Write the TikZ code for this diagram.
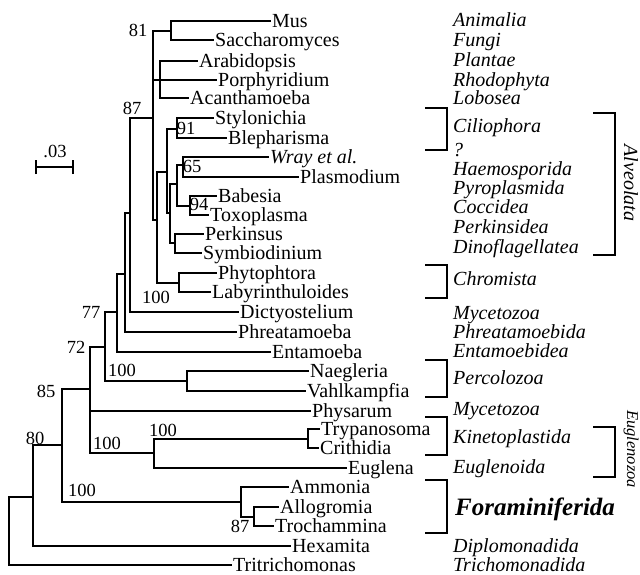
\documentclass[tikz,border=0pt]{standalone}
\usepackage{fontspec}
\setmainfont{Liberation Serif}
\begin{document}
\begin{tikzpicture}[x=1pt,y=-1pt,
  tl/.style={line width=1.4pt},
  leaf/.style={anchor=west,inner xsep=1pt,inner ysep=0pt,text height=12pt,text depth=0pt,font=\fontsize{20}{21}\selectfont},
  grp/.style={anchor=west,inner sep=0pt,text height=12pt,text depth=0pt,font=\fontsize{20}{21}\selectfont\itshape},
  bs/.style={inner sep=0pt,font=\fontsize{18.5}{19}\selectfont},
  brk/.style={line width=2.6pt,line cap=butt,line join=miter},
  rot/.style={rotate=-90,inner sep=0pt,font=\itshape}
]
\useasboundingbox (0,0) rectangle (640,574);

% leaves
\node[leaf] (mus) at (271,21) {Mus};
\node[leaf] (sac) at (214,40) {Saccharomyces};
\node[leaf] (ara) at (198,61) {Arabidopsis};
\node[leaf] (por) at (217,80) {Porphyridium};
\node[leaf] (aca) at (189,98) {Acanthamoeba};
\node[leaf] (sty) at (214,118) {Stylonichia};
\node[leaf] (ble) at (227,138) {Blepharisma};
\node[leaf] (wra) at (269,157) {\itshape Wray et al.};
\node[leaf] (pla) at (299,177) {Plasmodium};
\node[leaf] (bab) at (217,196) {Babesia};
\node[leaf] (tox) at (209,215) {Toxoplasma};
\node[leaf] (per) at (204,234) {Perkinsus};
\node[leaf] (sym) at (202,253) {Symbiodinium};
\node[leaf] (phy) at (217,273) {Phytophtora};
\node[leaf] (lab) at (211,292) {Labyrinthuloides};
\node[leaf] (dic) at (239,312) {Dictyostelium};
\node[leaf] (phr) at (237,332) {Phreatamoeba};
\node[leaf] (ent) at (271,352) {Entamoeba};
\node[leaf] (nae) at (309,371) {Naegleria};
\node[leaf] (vah) at (306,391) {Vahlkampfia};
\node[leaf] (phs) at (311,411) {Physarum};
\node[leaf] (try) at (320,429) {Trypanosoma};
\node[leaf] (cri) at (319,448) {Crithidia};
\node[leaf] (eug) at (347,468) {Euglena};
\node[leaf] (amm) at (289,487) {Ammonia};
\node[leaf] (all) at (279,507) {Allogromia};
\node[leaf] (tro) at (274,526) {Trochammina};
\node[leaf] (hex) at (291,546) {Hexamita};
\node[leaf] (tri) at (232,565) {Tritrichomonas};

% internal nodes
\coordinate (r) at (9,530);
\coordinate (n33) at (33,497);
\coordinate (n62) at (62,445);
\coordinate (n90) at (90,389);
\coordinate (n105) at (105,347);
\coordinate (n117) at (117,312);
\coordinate (n125) at (125,274);
\coordinate (n130) at (130,213);
\coordinate (n153) at (153,118);
\coordinate (n171) at (171,31);
\coordinate (n160) at (160,80);
\coordinate (n157) at (157,220);
\coordinate (n167) at (167,172);
\coordinate (c177) at (177,129);
\coordinate (n170) at (170,213);
\coordinate (a177) at (177,184);
\coordinate (n183) at (183,165);
\coordinate (n190) at (190,206);
\coordinate (n175) at (175,243);
\coordinate (n179) at (179,283);
\coordinate (n187) at (187,381);
\coordinate (n154) at (154,453);
\coordinate (n308) at (308,439);
\coordinate (n241) at (241,502);
\coordinate (n254) at (254,517);

\foreach \p/\c in {r/tri.west, r/n33, n33/n62, n33/hex.west, n62/n90, n62/n241,
  n90/n105, n90/phs.west, n90/n154, n105/n117, n105/n187, n117/n125, n117/ent.west,
  n125/n130, n125/phr.west, n130/n153, n130/dic.west, n153/n171, n153/n160, n153/n157,
  n171/mus.west, n171/sac.west, n160/ara.west, n160/por.west, n160/aca.west,
  n157/n167, n157/n179, n167/c177, n167/n170, c177/sty.west, c177/ble.west,
  n170/a177, n170/n175, a177/n183, a177/n190, n183/wra.west, n183/pla.west,
  n190/bab.west, n190/tox.west, n175/per.west, n175/sym.west, n179/phy.west, n179/lab.west,
  n187/nae.west, n187/vah.west, n154/n308, n154/eug.west, n308/try.west, n308/cri.west,
  n241/amm.west, n241/n254, n254/all.west, n254/tro.west}
  \draw[tl] (\p) |- (\c);

% support values
\node[bs] (s81) at (138,30) {81};
\node[bs] (s87a) at (132,108) {87};
\node[bs] (s91) at (186,128) {91};
\node[bs] (s65) at (192,166) {65};
\node[bs] (s94) at (199,204) {94};
\node[bs] (s100a) at (156,297) {100};
\node[bs] (s77) at (91,312) {77};
\node[bs] (s72) at (76,347) {72};
\node[bs] (s100b) at (122,370) {100};
\node[bs] (s85) at (46,391) {85};
\node[bs] (s100c) at (163,430) {100};
\node[bs] (s100d) at (107,443) {100};
\node[bs] (s80) at (35,438) {80};
\node[bs] (s100e) at (82,490) {100};
\node[bs] (s87b) at (240,526) {87};

% scale bar
\coordinate (sb1) at (36,167);
\coordinate (sb2) at (73,167);
\draw[tl] (sb1) -- (sb2);
\draw[tl] ([yshift=-7pt]sb1) -- ([yshift=7pt]sb1);
\draw[tl] ([yshift=-7pt]sb2) -- ([yshift=7pt]sb2);
\node[bs] (sbl) at (55,151) {.03};

% group labels
\node[grp] (g1) at (453,20) {Animalia};
\node[grp] (g2) at (453,40) {Fungi};
\node[grp] (g3) at (453,60) {Plantae};
\node[grp] (g4) at (453,80) {Rhodophyta};
\node[grp] (g5) at (453,98) {Lobosea};
\node[grp] (g6) at (453,126) {Ciliophora};
\node[grp] (g7) at (453,150) {?};
\node[grp] (g8) at (453,169) {Haemosporida};
\node[grp] (g9) at (453,188) {Pyroplasmida};
\node[grp] (g10) at (453,207) {Coccidea};
\node[grp] (g11) at (453,227) {Perkinsidea};
\node[grp] (g12) at (453,247) {Dinoflagellatea};
\node[grp] (g13) at (453,279) {Chromista};
\node[grp] (g14) at (453,313) {Mycetozoa};
\node[grp] (g15) at (453,332) {Phreatamoebida};
\node[grp] (g16) at (453,351) {Entamoebidea};
\node[grp] (g17) at (453,378) {Percolozoa};
\node[grp] (g18) at (453,409) {Mycetozoa};
\node[grp] (g19) at (453,437) {Kinetoplastida};
\node[grp] (g20) at (453,467) {Euglenoida};
\node[grp,font=\fontsize{25}{26}\selectfont\bfseries\itshape,text height=16pt] (g21) at (455,507) {Foraminiferida};
\node[grp] (g22) at (453,546) {Diplomonadida};
\node[grp] (g23) at (453,565) {Trichomonadida};

% brackets
\draw[brk] (425,108) -| (447,150) -- (425,150);
\draw[brk] (425,265) -| (447,298) -- (425,298);
\draw[brk] (425,360) -| (447,397) -- (425,397);
\draw[brk] (425,417) -| (447,455) -- (425,455);
\draw[brk] (425,480) -| (447,533) -- (425,533);
\draw[brk] (593,113) -| (615,255) -- (593,255);
\draw[brk] (593,427) -| (615,477) -- (593,477);
\node[rot,font=\fontsize{20}{21}\selectfont\itshape] (alv) at (631,183) {Alveolata};
\node[rot,font=\fontsize{16.5}{17}\selectfont\itshape] (eul) at (631,449) {Euglenozoa};
\end{tikzpicture}
\end{document}
